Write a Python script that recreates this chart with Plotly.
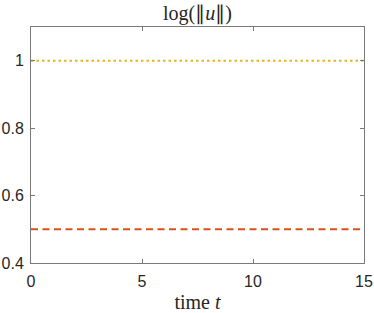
import plotly.graph_objects as go

t_vals = [0, 15]
norm_log_a = [1.0, 1.0]
norm_log_b = [0.5, 0.5]
x_ticks = [0, 5, 10, 15]
y_ticks = [0.4, 0.6, 0.8, 1.0]
y_tick_text = ["0.4", "0.6", "0.8", "1"]

fig = go.Figure()
fig.add_trace(go.Scatter(x=t_vals, y=norm_log_a, mode="lines",
                         line=dict(color="#EDB120", width=2, dash="2.5px,3px"), showlegend=False))
fig.add_trace(go.Scatter(x=t_vals, y=norm_log_b, mode="lines",
                         line=dict(color="#D95319", width=2, dash="7px,4.5px"), showlegend=False))

axis_common = dict(showline=True, linecolor="#7a7a7a", linewidth=1, mirror="ticks",
                   ticks="inside", ticklen=4, tickcolor="#7a7a7a", tickwidth=1,
                   showgrid=False, zeroline=False, automargin=False,
                   tickfont=dict(family="Liberation Sans, Arial", size=16, color="#262626"))

serif = "Liberation Serif, Times New Roman, serif"

fig.update_layout(
    width=374, height=313,
    margin=dict(l=31, r=10, t=27, b=50),
    paper_bgcolor="white", plot_bgcolor="white",
    title=dict(text="log(∥<i>u</i>∥)", x=0.528, xanchor="center", y=0.96, yanchor="middle",
               automargin=False,
               font=dict(family=serif, size=20, color="#262626")),
    xaxis=dict(range=[0, 15], tickvals=x_ticks, ticklabelstandoff=4, **axis_common,
               title=dict(text="time <i>t</i>", standoff=10,
                          font=dict(family=serif, size=20, color="#262626"))),
    yaxis=dict(range=[0.4, 1.1], tickvals=y_ticks, ticktext=y_tick_text, ticklabelstandoff=3, **axis_common),
)

fig.write_html("out.html", post_script="document.body.style.margin='0';",
               config={"displayModeBar": False})
